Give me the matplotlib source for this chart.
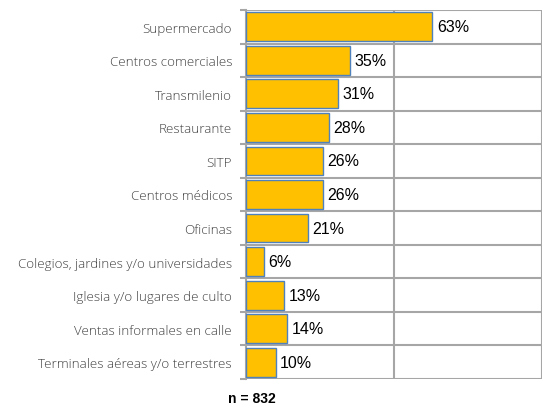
import matplotlib
matplotlib.use("Agg")
import matplotlib.pyplot as plt
import numpy as np

categories = ["Supermercado", "Centros comerciales", "Transmilenio", "Restaurante", "SITP",
              "Centros médicos", "Oficinas", "Colegios, jardines y/o universidades",
              "Iglesia y/o lugares de culto", "Ventas informales en calle",
              "Terminales aéreas y/o terrestres"]
values = [63, 35, 31, 28, 26, 26, 21, 6, 13, 14, 10]
value_labels = ["63%", "35%", "31%", "28%", "26%", "26%", "21%", "6%", "13%", "14%", "10%"]
note = "n = 832"

W, H = 543, 410
fig = plt.figure(figsize=(W/100, H/100), dpi=100)
ax = fig.add_axes([246/W, 1-380/H, (542-246)/W, (380-11)/H])

n = len(categories)
y = np.arange(n)
grid_c = "#A6A6A6"
ax.barh(y, values, height=0.86, color="#FFC000", edgecolor="#4F81BD", linewidth=1.0, zorder=3)
ax.set_xlim(0, 100)
ax.set_ylim(n - 0.5, -0.5)

for b in np.arange(-0.5, n, 1.0):
    ax.axhline(b, color=grid_c, linewidth=1.5, zorder=1)
for xv in [50, 100]:
    ax.axvline(xv, color=grid_c, linewidth=1.5, zorder=1)

ax.set_xticks([])
ax.set_yticks(np.arange(-0.5, n, 1.0), minor=False)
ax.set_yticklabels([])
ax.tick_params(axis="y", length=4, width=1.5, color=grid_c)
ax.set_yticks(y, minor=True)
ax.set_yticklabels(categories, minor=True, fontsize=9.6, family="Open Sans",
                   fontweight="light", color="#404040")
ax.tick_params(axis="y", which="minor", length=0, pad=10)

for s in ["top", "right", "bottom"]:
    ax.spines[s].set_visible(False)
ax.spines["left"].set_color(grid_c)
ax.spines["left"].set_linewidth(1.5)

for yi, v, lab in zip(y, values, value_labels):
    ax.text(v + 1.5, yi, lab, va="center", ha="left", fontsize=11.5,
            family="Liberation Sans", color="#000000", zorder=4)

fig.text(252/W, 1-399/H, note, ha="center", va="center", fontsize=10,
         family="Liberation Sans", fontweight="bold")

fig.savefig("out.png", dpi=100)
